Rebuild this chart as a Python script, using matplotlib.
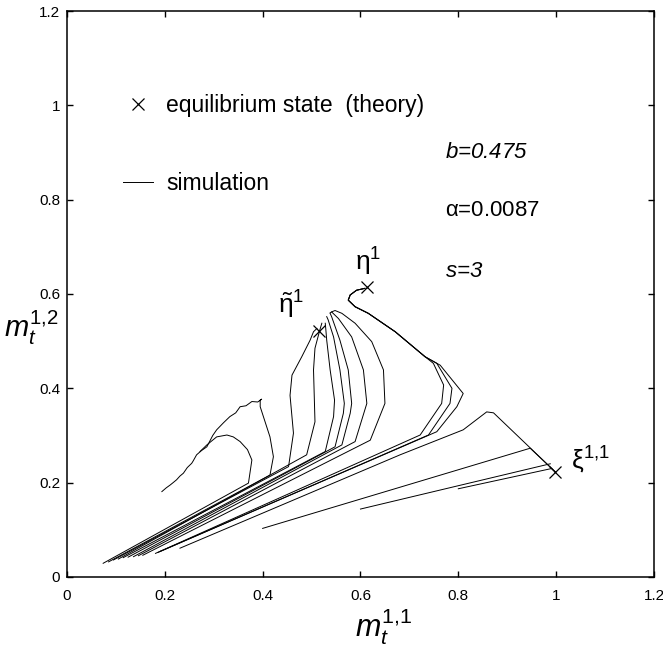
import matplotlib
matplotlib.use("Agg")
import matplotlib.pyplot as plt
from matplotlib.lines import Line2D

plt.rcParams['font.family'] = ['Liberation Sans', 'DejaVu Sans']
plt.rcParams['mathtext.fontset'] = 'custom'
plt.rcParams['mathtext.rm'] = 'Liberation Sans'
plt.rcParams['mathtext.it'] = 'Liberation Sans:italic'

# simulated trajectories (m^{1,1}, m^{1,2})
# group 1: flow into the tilde-eta fixed point
t1_x = [0.085, 0.415, 0.422, 0.415, 0.395, 0.395, 0.398, 0.390, 0.378, 0.366, 0.354, 0.345, 0.333,
        0.320, 0.306, 0.298, 0.286, 0.275, 0.265, 0.258, 0.255, 0.246, 0.238, 0.231, 0.224, 0.217,
        0.211, 0.203, 0.194]
t1_y = [0.032, 0.216, 0.255, 0.297, 0.361, 0.375, 0.377, 0.371, 0.372, 0.363, 0.361, 0.348, 0.340,
        0.327, 0.312, 0.300, 0.276, 0.268, 0.259, 0.246, 0.241, 0.232, 0.220, 0.214, 0.206, 0.200,
        0.195, 0.189, 0.181]
t2_x = [0.074, 0.371, 0.378, 0.369, 0.354, 0.340, 0.327, 0.306, 0.286, 0.272]
t2_y = [0.029, 0.199, 0.248, 0.270, 0.287, 0.297, 0.301, 0.297, 0.280, 0.266]
t3_x = [0.095, 0.453, 0.463, 0.456, 0.460, 0.480, 0.497, 0.504, 0.511]
t3_y = [0.036, 0.234, 0.305, 0.385, 0.428, 0.467, 0.502, 0.520, 0.527]
t4_x = [0.105, 0.490, 0.507, 0.504, 0.507, 0.517, 0.521]
t4_y = [0.038, 0.259, 0.329, 0.439, 0.485, 0.524, 0.538]
t5_x = [0.115, 0.528, 0.545, 0.547, 0.538, 0.531, 0.529, 0.528]
t5_y = [0.041, 0.266, 0.340, 0.375, 0.439, 0.502, 0.527, 0.538]
t6_x = [0.125, 0.548, 0.565, 0.567, 0.558, 0.545, 0.534, 0.531]
t6_y = [0.042, 0.276, 0.347, 0.368, 0.439, 0.509, 0.545, 0.552]
t7_x = [0.136, 0.562, 0.579, 0.582, 0.575, 0.558, 0.541, 0.538]
t7_y = [0.043, 0.280, 0.347, 0.368, 0.439, 0.502, 0.552, 0.559]
t8_x = [0.146, 0.589, 0.613, 0.606, 0.582, 0.555, 0.541, 0.538]
t8_y = [0.045, 0.287, 0.368, 0.439, 0.509, 0.548, 0.562, 0.560]
t9_x = [0.155, 0.620, 0.650, 0.647, 0.623, 0.589, 0.562, 0.548, 0.541]
t9_y = [0.046, 0.290, 0.368, 0.439, 0.499, 0.538, 0.559, 0.565, 0.562]

# group 2: flow into eta, plus one into xi
eta_tail_x = [0.732, 0.671, 0.616, 0.589, 0.575, 0.579, 0.592, 0.609]
eta_tail_y = [0.467, 0.520, 0.559, 0.573, 0.587, 0.598, 0.608, 0.612]
e1_x = [0.181, 0.722, 0.766, 0.770, 0.749] + eta_tail_x
e1_y = [0.050, 0.301, 0.368, 0.407, 0.453] + eta_tail_y
e2_x = [0.186, 0.739, 0.783, 0.787, 0.756] + eta_tail_x
e2_y = [0.052, 0.301, 0.368, 0.400, 0.453] + eta_tail_y
e3_x = [0.190, 0.756, 0.797, 0.810, 0.763] + eta_tail_x
e3_y = [0.054, 0.308, 0.361, 0.389, 0.449] + eta_tail_y
p_x = [0.231, 0.681, 0.810, 0.858, 0.872, 0.998]
p_y = [0.061, 0.259, 0.312, 0.350, 0.348, 0.223]

# group 3: straight runs into xi
c1_x = [0.400, 0.947, 0.998]
c1_y = [0.103, 0.273, 0.223]
c2_x = [0.600, 0.988]
c2_y = [0.144, 0.240]
c3_x = [0.800, 0.991]
c3_y = [0.187, 0.230]

trajectories = [(t1_x, t1_y), (t2_x, t2_y), (t3_x, t3_y), (t4_x, t4_y), (t5_x, t5_y),
                (t6_x, t6_y), (t7_x, t7_y), (t8_x, t8_y), (t9_x, t9_y),
                (e1_x, e1_y), (e2_x, e2_y), (e3_x, e3_y), (p_x, p_y),
                (c1_x, c1_y), (c2_x, c2_y), (c3_x, c3_y)]

# theoretical equilibrium states: tilde-eta^1, eta^1, xi^{1,1}
eq_x = [0.515, 0.614, 0.998]
eq_y = [0.522, 0.614, 0.223]
eq_labels = [r'$\tilde{\mathrm{\eta}}^1$', r'$\mathrm{\eta}^1$', r'$\mathrm{\xi}^{1{,}1}$']

fig = plt.figure(figsize=(6.63, 6.49), dpi=100)
ax = fig.add_axes([0.101, 0.111, 0.8854, 0.872])

for tx, ty in trajectories:
    ax.plot(tx, ty, color='black', lw=0.7)
ax.plot(eq_x, eq_y, ls='none', marker='x', color='black', ms=9, mew=0.9)

ax.text(0.458, 0.577, eq_labels[0], fontsize=19, ha='center', va='center')
ax.text(0.616, 0.668, eq_labels[1], fontsize=19, ha='center', va='center')
ax.text(1.07, 0.247, eq_labels[2], fontsize=19, ha='center', va='center')

ax.text(0.773, 0.901, r'$b$=0.475', fontsize=16, style='italic', va='center')
ax.text(0.773, 0.778, r'$\mathrm{\alpha}$=0.0087', fontsize=16, va='center')
ax.text(0.773, 0.648, r'$s$=3', fontsize=16, style='italic', va='center')

handles = [Line2D([], [], ls='none', marker='x', color='black', ms=9, mew=0.9),
           Line2D([], [], color='black', lw=0.7)]
ax.legend(handles, ['equilibrium state  (theory)', 'simulation'], loc='upper left',
          bbox_to_anchor=(0.095, 0.853), frameon=False, fontsize=16.5, borderpad=0,
          handlelength=1.3, handletextpad=0.6, labelspacing=2.4, borderaxespad=0)

ax.set_xlim(0, 1.2)
ax.set_ylim(0, 1.2)
ax.set_xticks([0, 0.2, 0.4, 0.6, 0.8, 1, 1.2])
ax.set_yticks([0, 0.2, 0.4, 0.6, 0.8, 1, 1.2])
ax.set_xticklabels(['0', '0.2', '0.4', '0.6', '0.8', '1', '1.2'])
ax.set_yticklabels(['0', '0.2', '0.4', '0.6', '0.8', '1', '1.2'])
ax.tick_params(direction='in', top=True, right=True, length=4, width=1, labelsize=11)
ax.tick_params(axis='x', pad=9)
ax.tick_params(axis='y', pad=5)
for sp in ax.spines.values():
    sp.set_linewidth(1.1)

ax.set_xlabel(r'$m_t^{1{,}1}$', fontsize=22)
ax.xaxis.set_label_coords(0.54, -0.052)
ax.set_ylabel(r'$m_t^{1{,}2}$', fontsize=21, rotation=0, ha='center', va='center')
ax.yaxis.set_label_coords(-0.06, 0.44)

fig.savefig('out.png', dpi=100)
